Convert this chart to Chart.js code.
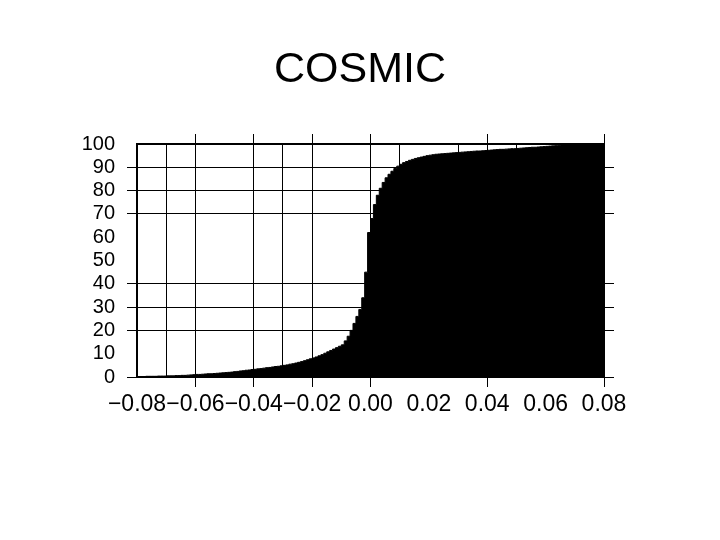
<!DOCTYPE html>
<html>
<head>
<meta charset="utf-8">
<script src="https://cdn.jsdelivr.net/npm/chart.js@4"></script>
<style>
  body { margin: 0; background: #fff; }
  #wrap { width: 720px; height: 540px; }
</style>
</head>
<body>
<div id="wrap"><canvas id="myChart" width="720" height="540"></canvas></div>
<script>
// bins of 0.001 from -0.080 to 0.079, cumulative percentage
const binStart = -0.08;
const binWidth = 0.001;
const cumulative = [
    0.2, 0.2, 0.2, 0.3, 0.3, 0.3, 0.3, 0.4, 0.4, 0.4,
    0.5, 0.5, 0.5, 0.6, 0.6, 0.7, 0.7, 0.8, 0.9, 1.0,
    1.1, 1.1, 1.2, 1.3, 1.4, 1.4, 1.5, 1.6, 1.7, 1.8,
    1.9, 2.0, 2.1, 2.3, 2.4, 2.6, 2.7, 2.9, 3.0, 3.2,
    3.3, 3.5, 3.6, 3.8, 4.0, 4.1, 4.3, 4.5, 4.6, 4.8,
    5.0, 5.2, 5.5, 5.7, 6.0, 6.3, 6.6, 7.0, 7.4, 7.8,
    8.2, 8.6, 9.1, 9.6, 10.2, 10.8, 11.4, 12.0, 12.6, 13.2,
    13.8, 15.5, 17.5, 20, 23, 26, 29, 34, 45, 62,
    68, 74, 78, 81, 83.5, 85.5, 87, 88.3, 89.5, 90.5,
    91.3, 92, 92.5, 93, 93.4, 93.8, 94.1, 94.4, 94.7, 95,
    95.2, 95.4, 95.6, 95.7, 95.8, 95.9, 96.0, 96.1, 96.2, 96.3,
    96.4, 96.5, 96.6, 96.7, 96.8, 96.9, 97.0, 97.0, 97.1, 97.2,
    97.3, 97.4, 97.5, 97.6, 97.7, 97.7, 97.8, 97.9, 98.0, 98.0,
    98.1, 98.2, 98.3, 98.4, 98.5, 98.6, 98.6, 98.7, 98.8, 98.9,
    99.0, 99.1, 99.2, 99.3, 99.4, 99.6, 99.8, 100, 100, 100,
    100, 100, 100, 100, 100, 100, 100, 100, 100, 100
];

const xTickLabels = ['\u22120.08', '\u22120.06', '\u22120.04', '\u22120.02', '0.00', '0.02', '0.04', '0.06', '0.08'];
const yTickLabels = ['0', '10', '20', '30', '40', '50', '60', '70', '80', '90', '100'];

// which grid lines / tick marks show in the picture
const xGridAt = [-0.07, -0.06, -0.04, -0.03, -0.02, 0.00, 0.01, 0.03, 0.04, 0.05];
const xTickMarksAt = [-0.06, -0.04, -0.02, 0.00, 0.04, 0.08];
const yGridAt = [20, 30, 40, 70, 80, 90];
const yTickMarksAt = [0, 20, 30, 40, 70, 80, 90];

function inList(list, v) {
    return list.some(function (a) { return Math.abs(a - v) < 1e-6; });
}

// step points: one per bin start, plus the right edge
var points = cumulative.map(function (v, i) {
    return { x: binStart + i * binWidth, y: v };
});
points.push({ x: binStart + cumulative.length * binWidth, y: cumulative[cumulative.length - 1] });

var font = 'Liberation Sans, Arial, sans-serif';

var ctx = document.getElementById('myChart').getContext('2d');
var myChart = new Chart(ctx, {
    type: 'line',
    data: {
        datasets: [
            {
                label: 'COSMIC',
                data: points,
                stepped: 'before', // each bin's value holds until the next bin start
                fill: 'origin',
                backgroundColor: '#000',
                borderColor: '#000',
                borderWidth: 1,
                pointRadius: 0
            }
        ]
    },
    options: {
        responsive: false,
        animation: false,
        layout: { padding: 0 },
        scales: {
            x: {
                type: 'linear',
                position: 'bottom',
                min: -0.08,
                max: 0.08,
                afterFit: function (scale) { scale.height = 163; },
                ticks: {
                    stepSize: 0.01,
                    autoSkip: false,
                    maxRotation: 0,
                    padding: 4,
                    color: '#000',
                    font: { family: font, size: 23 },
                    callback: function (value, index) {
                        return index % 2 === 0 ? xTickLabels[index / 2] : '';
                    }
                },
                grid: {
                    color: function (c) { return inList(xGridAt, c.tick.value) ? '#000' : 'rgba(0,0,0,0)'; },
                    tickColor: function (c) { return inList(xTickMarksAt, c.tick.value) ? '#000' : 'rgba(0,0,0,0)'; },
                    tickLength: 10,
                    lineWidth: 1
                },
                border: { display: true, color: '#000', width: 2 }
            },
            x2: {
                type: 'linear',
                position: 'top',
                min: -0.08,
                max: 0.08,
                afterFit: function (scale) { scale.height = 48.4; },
                ticks: { stepSize: 0.01, autoSkip: false, display: false },
                grid: {
                    drawOnChartArea: false,
                    tickColor: function (c) { return inList(xTickMarksAt, c.tick.value) ? '#000' : 'rgba(0,0,0,0)'; },
                    tickLength: 10
                },
                border: { display: true, color: '#000', width: 2 }
            },
            y: {
                position: 'left',
                min: 0,
                max: 100,
                afterFit: function (scale) { scale.width = 137; },
                ticks: {
                    stepSize: 10,
                    autoSkip: false,
                    padding: 12,
                    color: '#000',
                    font: { family: font, size: 20 },
                    callback: function (value, index) { return yTickLabels[index]; }
                },
                grid: {
                    color: function (c) { return inList(yGridAt, c.tick.value) ? '#000' : 'rgba(0,0,0,0)'; },
                    tickColor: function (c) { return inList(yTickMarksAt, c.tick.value) ? '#000' : 'rgba(0,0,0,0)'; },
                    tickLength: 10,
                    lineWidth: 1
                },
                border: { display: true, color: '#000', width: 2 }
            },
            y2: {
                position: 'right',
                min: 0,
                max: 100,
                afterFit: function (scale) { scale.width = 116; },
                ticks: { stepSize: 10, autoSkip: false, display: false },
                grid: {
                    drawOnChartArea: false,
                    tickColor: function (c) { return inList(yTickMarksAt, c.tick.value) ? '#000' : 'rgba(0,0,0,0)'; },
                    tickLength: 10
                },
                border: { display: true, color: '#000', width: 1 }
            }
        },
        plugins: {
            legend: { display: false },
            tooltip: { enabled: false },
            title: {
                display: true,
                text: 'COSMIC',
                color: '#000',
                font: { family: font, size: 43, weight: 'normal' },
                padding: { top: 44, bottom: 0 }
            }
        }
    }
});
</script>
</body>
</html>
